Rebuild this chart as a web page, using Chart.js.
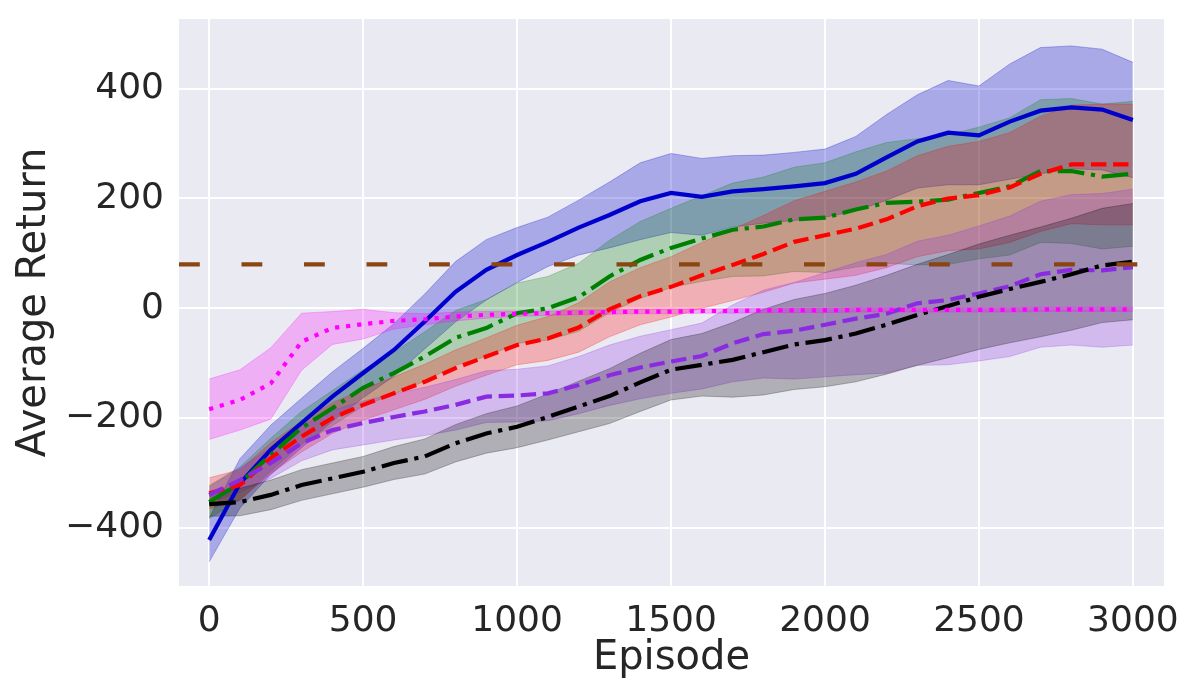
<!DOCTYPE html>
<html>
<head>
<meta charset="utf-8">
<script src="https://cdn.jsdelivr.net/npm/chart.js@4/dist/chart.umd.min.js"></script>
<style>
  html, body { margin: 0; padding: 0; background: #fff; }
  #wrap { width: 1200px; height: 700px; }
</style>
</head>
<body>
<div id="wrap"><canvas id="chart" width="1200" height="700"></canvas></div>
<script>
// episodes sampled every 100
const episodes = [0, 100, 200, 300, 400, 500, 600, 700, 800, 900, 1000,
  1100, 1200, 1300, 1400, 1500, 1600, 1700, 1800, 1900, 2000,
  2100, 2200, 2300, 2400, 2500, 2600, 2700, 2800, 2900, 3000];

const blueMean = [-422, -319, -258, -209, -161, -118, -76, -24, 30, 70, 97,
  121, 147, 170, 195, 210, 203, 213, 217, 222, 228,
  245, 275, 304, 320, 315, 340, 360, 366, 362, 343];
const blueStd = [40, 45, 45, 45, 45, 45, 48, 50, 55, 55, 50,
  45, 50, 60, 70, 72, 70, 65, 62, 62, 62,
  68, 78, 85, 95, 90, 105, 115, 112, 110, 105];

const greenMean = [-353, -319, -267, -218, -182, -145, -118, -88, -54, -36, -9,
  0, 20, 58, 88, 110, 127, 143, 149, 162, 165,
  180, 192, 194, 198, 210, 222, 250, 250, 240, 245];
const greenStd = [30, 30, 30, 30, 32, 33, 38, 45, 50, 52, 55,
  58, 62, 66, 70, 72, 78, 85, 90, 95, 100,
  105, 110, 115, 118, 120, 125, 130, 132, 132, 132];

const redMean = [-337, -322, -273, -234, -200, -176, -155, -134, -109, -88, -67,
  -55, -35, -2, 22, 39, 60, 79, 99, 121, 133,
  145, 162, 186, 200, 206, 220, 245, 262, 262, 262];
const redStd = [28, 28, 28, 28, 28, 28, 30, 32, 33, 34, 36,
  40, 45, 50, 52, 55, 60, 65, 70, 75, 80,
  85, 88, 92, 95, 98, 100, 105, 108, 110, 110];

const purpleMean = [-340, -313, -282, -246, -222, -209, -198, -188, -176, -161, -159,
  -155, -140, -122, -108, -97, -87, -64, -47, -41, -30,
  -19, -10, 9, 15, 27, 40, 62, 70, 69, 75];
const purpleStd = [15, 22, 28, 32, 36, 40, 42, 44, 46, 47, 48,
  50, 52, 55, 57, 58, 60, 70, 80, 88, 95,
  102, 108, 113, 118, 123, 128, 133, 137, 140, 142];

const blackMean = [-357, -353, -340, -322, -310, -298, -282, -270, -246, -228, -216,
  -198, -179, -160, -135, -112, -103, -94, -80, -66, -58,
  -46, -30, -12, 4, 21, 35, 48, 62, 78, 85];
const blackStd = [22, 25, 27, 28, 28, 28, 30, 32, 34, 36, 38,
  42, 46, 50, 53, 55, 57, 68, 78, 82, 85,
  88, 90, 92, 94, 96, 98, 100, 102, 104, 106];

const magentaMean = [-184, -167, -137, -61, -36, -29, -23, -20, -15, -12, -10,
  -9, -8, -7, -6, -6, -5, -5, -4, -4, -4,
  -3, -3, -3, -3, -3, -3, -2, -2, -2, -2];
const magentaStd = [55, 55, 65, 52, 30, 27, 15, 10, 8, 6, 5,
  4, 4, 4, 4, 4, 4, 4, 4, 4, 4,
  4, 4, 4, 4, 4, 4, 4, 4, 4, 4];

const threshold = 80;

const xTicks = [0, 500, 1000, 1500, 2000, 2500, 3000];
const yTicks = [-400, -200, 0, 200, 400];
const xMin = -98, xMax = 3101;
const yMin = -506, yMax = 527;

const LW = 4.2;
const series = [
  { mean: blueMean, std: blueStd, color: '#0000cd', band: 'rgba(0,0,205,0.28)', dash: [] },
  { mean: greenMean, std: greenStd, color: '#008000', band: 'rgba(0,128,0,0.25)', dash: [26.7, 6.7, 4.2, 6.7] },
  { mean: redMean, std: redStd, color: '#ff0000', band: 'rgba(255,0,0,0.25)', dash: [15.4, 6.7] },
  { mean: purpleMean, std: purpleStd, color: '#8a2be2', band: 'rgba(138,43,226,0.25)', dash: [15.4, 6.7] },
  { mean: blackMean, std: blackStd, color: '#000000', band: 'rgba(0,0,0,0.25)', dash: [26.7, 6.7, 4.2, 6.7] },
  { mean: magentaMean, std: magentaStd, color: '#ff00ff', band: 'rgba(255,0,255,0.25)', dash: [4.2, 6.9] },
];

const datasets = [];
series.forEach((s, k) => {
  datasets.push({
    data: episodes.map((x, i) => ({ x: x, y: s.mean[i] + s.std[i] })),
    borderColor: s.band, borderWidth: 1, pointRadius: 0, fill: false,
    order: 200 - k,
  });
  datasets.push({
    data: episodes.map((x, i) => ({ x: x, y: s.mean[i] - s.std[i] })),
    borderColor: s.band, borderWidth: 1, pointRadius: 0,
    fill: '-1', backgroundColor: s.band,
    order: 200 - k,
  });
});
series.forEach((s, k) => {
  datasets.push({
    data: episodes.map((x, i) => ({ x: x, y: s.mean[i] })),
    borderColor: s.color, borderWidth: LW, borderDash: s.dash,
    pointRadius: 0, fill: false, order: 50 - k,
  });
});
datasets.push({
  data: [{ x: xMin, y: threshold }, { x: xMax, y: threshold }],
  borderColor: '#8b4513', borderWidth: LW, borderDash: [20.8, 41.7],
  pointRadius: 0, fill: false, order: 0,
});

const plotBg = {
  id: 'plotBg',
  beforeDraw(chart) {
    const { ctx, chartArea: a } = chart;
    ctx.save();
    ctx.fillStyle = '#eaeaf2';
    ctx.fillRect(a.left, a.top, a.right - a.left, a.bottom - a.top);
    ctx.restore();
  },
};

const textColor = '#262626';
const tickFont = { family: 'DejaVu Sans', size: 36 };
const titleFont = { family: 'DejaVu Sans', size: 40 };

new Chart(document.getElementById('chart'), {
  type: 'line',
  data: { datasets: datasets },
  plugins: [plotBg],
  options: {
    responsive: false,
    animation: false,
    devicePixelRatio: 1,
    layout: { padding: { left: 0, right: 36, top: 19, bottom: 0 } },
    plugins: {
      legend: { display: false },
      tooltip: { enabled: false },
      filler: { propagate: false },
    },
    elements: { line: { tension: 0 } },
    scales: {
      x: {
        type: 'linear',
        min: xMin,
        max: xMax,
        afterBuildTicks: (scale) => { scale.ticks = xTicks.map((v) => ({ value: v })); },
        afterFit: (scale) => {
          scale.height = 114;
          scale.paddingLeft = 0;
          scale.paddingRight = 0;
        },
        grid: { color: '#ffffff', lineWidth: 2, drawTicks: false },
        border: { display: false },
        ticks: {
          color: textColor, font: tickFont, padding: 14, maxRotation: 0,
          callback: (v) => String(v),
        },
        title: { display: true, text: 'Episode', color: textColor, font: titleFont, padding: { top: 0, bottom: 17 } },
      },
      y: {
        type: 'linear',
        min: yMin,
        max: yMax,
        afterBuildTicks: (scale) => { scale.ticks = yTicks.map((v) => ({ value: v })); },
        afterFit: (scale) => {
          scale.width = 179;
          scale.paddingTop = 0;
          scale.paddingBottom = 0;
        },
        grid: { color: '#ffffff', lineWidth: 2, drawTicks: false },
        border: { display: false },
        ticks: {
          color: textColor, font: tickFont, padding: 15,
          callback: (v) => (v < 0 ? '\u2212' + Math.abs(v) : String(v)),
        },
        title: { display: true, text: 'Average Return', color: textColor, font: titleFont, padding: { top: 11, bottom: 0 } },
      },
    },
  },
});
</script>
</body>
</html>
